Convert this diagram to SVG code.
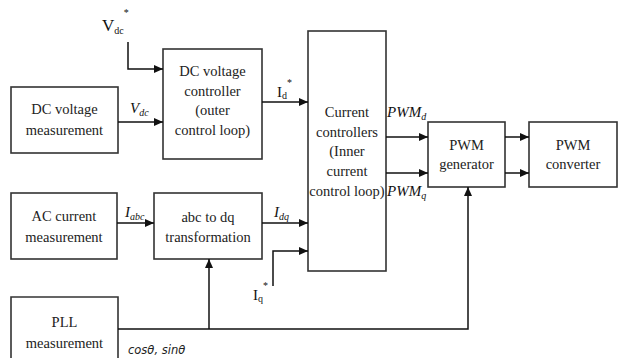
<svg xmlns="http://www.w3.org/2000/svg" width="619" height="358" viewBox="0 0 619 358">
<style>
.box{fill:#fff;stroke:#333;stroke-width:1.6}
.t{font-family:'Liberation Serif',serif;font-size:14.5px;fill:#222;text-anchor:middle}
.m{font-family:'Liberation Serif',serif;font-size:15px;fill:#111}
.mi{font-family:'Liberation Serif',serif;font-size:15px;font-style:italic;fill:#111}
.big{font-size:17px}
.s{font-size:10px}
.w{stroke:#111;stroke-width:1.5;fill:none}
.a{marker-end:url(#ah)}
.cs{font-family:'DejaVu Sans',sans-serif;font-style:italic;font-size:11.5px;fill:#222}
</style>
<defs>
<marker id="ah" markerUnits="userSpaceOnUse" markerWidth="10" markerHeight="8" refX="9" refY="4" orient="auto">
<path d="M0,0 L9,4 L0,8 z" fill="#111"/>
</marker>
</defs>
<rect width="619" height="358" fill="#fff"/>

<g id="dc-meas">
<rect class="box" x="11" y="87" width="107" height="66"/>
<text class="t" x="64.5" y="114">DC voltage</text>
<text class="t" x="64.5" y="135">measurement</text>
</g>

<g id="dc-ctrl">
<rect class="box" x="163" y="49" width="99" height="110"/>
<text class="t" x="212.5" y="76">DC voltage</text>
<text class="t" x="212.5" y="96">controller</text>
<text class="t" x="212.5" y="115">(outer</text>
<text class="t" x="212.5" y="135">control loop)</text>
</g>

<g id="cur-ctrl">
<rect class="box" x="308" y="31" width="78" height="240"/>
<text class="t" x="347" y="117">Current</text>
<text class="t" x="347" y="137">controllers</text>
<text class="t" x="347" y="156">(Inner</text>
<text class="t" x="347" y="176">current</text>
<text class="t" x="347" y="196">control loop)</text>
</g>

<g id="pwm-gen">
<rect class="box" x="428" y="122" width="77" height="65"/>
<text class="t" x="466.5" y="150">PWM</text>
<text class="t" x="466.5" y="169">generator</text>
</g>

<g id="pwm-conv">
<rect class="box" x="529" y="122" width="88" height="65"/>
<text class="t" x="573" y="150">PWM</text>
<text class="t" x="573" y="169">converter</text>
</g>

<g id="ac-meas">
<rect class="box" x="11" y="193" width="106" height="66"/>
<text class="t" x="64" y="221">AC current</text>
<text class="t" x="64" y="242">measurement</text>
</g>

<g id="abc-dq">
<rect class="box" x="154" y="193" width="108" height="66"/>
<text class="t" x="208" y="222">abc to dq</text>
<text class="t" x="208" y="242">transformation</text>
</g>

<g id="pll">
<path class="box" d="M11,360 V297 H118 V360"/>
<text class="t" x="64.5" y="327">PLL</text>
<text class="t" x="64.5" y="348">measurement</text>
</g>

<g id="connectors">
<path class="w a" d="M128,42 V69 H163"/>
<path class="w a" d="M118,122 H163"/>
<path class="w a" d="M262,102 H308"/>
<path class="w a" d="M117,223 H154"/>
<path class="w a" d="M262,223 H308"/>
<path class="w a" d="M273,286 V251 H308"/>
<path class="w a" d="M386,137 H428"/>
<path class="w a" d="M386,173 H428"/>
<path class="w a" d="M505,137 H529"/>
<path class="w a" d="M505,173 H529"/>
<path class="w a" d="M118,329 H468 V187"/>
<path class="w a" d="M209,329 V259"/>
</g>

<g id="labels">
<text class="m big" x="102" y="31">V<tspan class="s" dy="3">dc</tspan><tspan class="s" dy="-18">*</tspan></text>
<text class="mi" x="130" y="113">V<tspan class="s" dy="3">dc</tspan></text>
<text class="m" x="277" y="97">I<tspan class="s" dy="2">d</tspan><tspan class="s" dy="-13">*</tspan></text>
<text class="mi" x="125" y="217">I<tspan class="s" dy="3">abc</tspan></text>
<text class="mi" x="274" y="217">I<tspan class="s" dy="3">dq</tspan></text>
<text class="m" x="253" y="300">I<tspan class="s" dy="2">q</tspan><tspan class="s" dy="-13">*</tspan></text>
<text class="mi" x="387" y="117">PWM<tspan class="s" dy="3">d</tspan></text>
<text class="mi" x="387" y="196">PWM<tspan class="s" dy="3">q</tspan></text>
<text class="cs" x="128" y="354">cosθ, sinθ</text>
</g>
</svg>
